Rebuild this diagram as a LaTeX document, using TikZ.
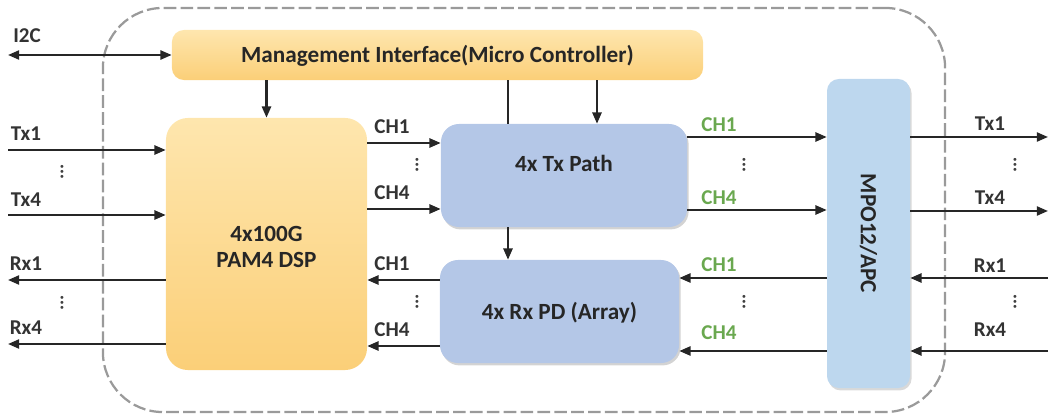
\documentclass[tikz,border=0pt]{standalone}
\usepackage{fontspec}
\setmainfont{Carlito}
\usetikzlibrary{arrows.meta,shadows,calc}
\definecolor{orTop}{HTML}{FEE6AE}
\definecolor{orBot}{HTML}{FBCF78}
\definecolor{bluebox}{HTML}{B4C7E7}
\definecolor{mpoblue}{HTML}{BDD7EE}
\definecolor{chgreen}{HTML}{6AA84F}
\definecolor{dashgray}{HTML}{9A9A9A}
\tikzset{
  arr/.style={line width=1.5pt,draw=black!85,-{Triangle[length=8pt,width=6.5pt]}},
  plain/.style={line width=1.5pt,draw=black!85},
  orbox/.style={draw=none,top color=orTop,bottom color=orBot,rounded corners=0.55cm,inner sep=0},
  bluebx/.style={draw=none,fill=bluebox,rounded corners=0.45cm,inner sep=0,
     drop shadow={opacity=0.35,shadow xshift=0.04cm,shadow yshift=-0.06cm}},
  mpobx/.style={draw=none,fill=mpoblue,rounded corners=0.3cm,inner sep=0,
     drop shadow={opacity=0.3,shadow xshift=0.04cm,shadow yshift=-0.06cm}},
  btxt/.style={font=\fontsize{16.5}{19}\selectfont\bfseries,text=black!85,align=center},
  sig/.style={font=\fontsize{15}{17}\selectfont\bfseries,text=black!80,inner sep=1pt},
  grn/.style={font=\fontsize{15}{17}\selectfont\bfseries,text=chgreen,inner sep=1pt},
  vdots/.style={font=\fontsize{14}{14}\selectfont\bfseries,rotate=90,inner sep=0,text=black!75},
  outer/.style={draw=dashgray,line width=1.6pt,dash pattern=on 9pt off 3pt,rounded corners=1.5cm,inner sep=0}
}
\begin{document}
\begin{tikzpicture}[x=0.025cm,y=-0.025cm]
\useasboundingbox (0,0) rectangle (1052,419);
% outer module
\node[outer,minimum width=21.05cm,minimum height=10.1cm] (module) at (524,210) {};
% boxes
\node[orbox,minimum width=13.275cm,minimum height=1.25cm,rounded corners=0.3cm] (mgmt) at (437.5,55) {};
\node[btxt] (mgmttxt) at (437.5,56) {Management Interface(Micro Controller)};
\node[orbox,minimum width=5.025cm,minimum height=6.3cm] (dsp) at (266.5,244) {};
\node[btxt] (dsptxt) at (266.5,247) {4x100G\\PAM4 DSP};
\node[bluebx,minimum width=6.15cm,minimum height=2.575cm] (tx) at (564,175.5) {};
\node[btxt] (txtxt) at (564,163) {4x Tx Path};
\node[bluebx,minimum width=5.975cm,minimum height=2.575cm] (rx) at (559.5,311.5) {};
\node[btxt] (rxtxt) at (559.5,313) {4x Rx PD (Array)};
\node[mpobx,minimum width=2.075cm,minimum height=7.725cm] (mpo) at (868.5,233.5) {};
\node[btxt,rotate=-90] (mpotxt) at (868.5,233.5) {MPO12/APC};
% helper coordinates
\coordinate (i2c) at (8,55);
\coordinate (xa) at (508,0);
\coordinate (xb) at (597,0);
\coordinate (tin1) at (8,150);
\coordinate (tin4) at (8,215);
\coordinate (rout1) at (8,280);
\coordinate (rout4) at (8,344);
\coordinate (d1) at (0,143);
\coordinate (d4) at (0,209);
\coordinate (r1) at (0,280);
\coordinate (r4) at (0,346);
\coordinate (o1) at (0,137);
\coordinate (o4) at (0,210);
\coordinate (p1) at (0,278);
\coordinate (p4) at (0,351);
\coordinate (txo1) at (1048,137);
\coordinate (txo4) at (1048,211);
\coordinate (rxi1) at (1048,278);
\coordinate (rxi4) at (1048,351);
% I2C
\draw[arr,{Triangle[length=8pt,width=6.5pt]}-{Triangle[length=8pt,width=6.5pt]}] (i2c) -- (mgmt.west);
\node[sig] (li2c) at (27,36) {I2C};
% management down
\draw[arr] (dsp.north |- mgmt.south) -- (dsp.north);
\draw[plain] (xa |- mgmt.south) -- (xa |- tx.north);
\draw[arr] (xb |- mgmt.south) -- (xb |- tx.north);
\draw[arr] (xa |- tx.south) -- (xa |- rx.north);
% left side
\draw[arr] (tin1) -- (dsp.west |- tin1);
\draw[arr] (tin4) -- (dsp.west |- tin4);
\draw[arr] (dsp.west |- rout1) -- (rout1);
\draw[arr] (dsp.west |- rout4) -- (rout4);
\node[sig] (ltx1) at (26,134) {Tx1};
\node[sig] (ltx4) at (26,200) {Tx4};
\node[sig] (lrx1) at (26,264) {Rx1};
\node[sig] (lrx4) at (26,328) {Rx4};
\node[vdots] (dl1) at (62,172) {...};
\node[vdots] (dl2) at (62,303) {...};
% DSP <-> Tx/Rx
\draw[arr] (dsp.east |- d1) -- (tx.west |- d1);
\draw[arr] (dsp.east |- d4) -- (tx.west |- d4);
\draw[arr] (rx.west |- r1) -- (dsp.east |- r1);
\draw[arr] (rx.west |- r4) -- (dsp.east |- r4);
\node[sig] (c1a) at (392,127) {CH1};
\node[sig] (c4a) at (392,193) {CH4};
\node[sig] (c1b) at (392,264) {CH1};
\node[sig] (c4b) at (392,330) {CH4};
\node[vdots] (dm1) at (417,165) {...};
\node[vdots] (dm2) at (417,302) {...};
% Tx/Rx <-> MPO
\draw[arr] (tx.east |- o1) -- (mpo.west |- o1);
\draw[arr] (tx.east |- o4) -- (mpo.west |- o4);
\draw[arr] (mpo.west |- p1) -- (rx.east |- p1);
\draw[arr] (mpo.west |- p4) -- (rx.east |- p4);
\node[grn] (g1a) at (719,125) {CH1};
\node[grn] (g4a) at (719,198) {CH4};
\node[grn] (g1b) at (719,265) {CH1};
\node[grn] (g4b) at (719,333) {CH4};
\node[vdots] (dr1) at (744,165) {...};
\node[vdots] (dr2) at (744,302) {...};
% right side
\draw[arr] (mpo.east |- txo1) -- (txo1);
\draw[arr] (mpo.east |- txo4) -- (txo4);
\draw[arr] (rxi1) -- (mpo.east |- rxi1);
\draw[arr] (rxi4) -- (mpo.east |- rxi4);
\node[sig] (rtx1) at (990,124) {Tx1};
\node[sig] (rtx4) at (990,198) {Tx4};
\node[sig] (rrx1) at (990,266) {Rx1};
\node[sig] (rrx4) at (990,330) {Rx4};
\node[vdots] (de1) at (1015,165) {...};
\node[vdots] (de2) at (1015,302) {...};
\end{tikzpicture}
\end{document}
